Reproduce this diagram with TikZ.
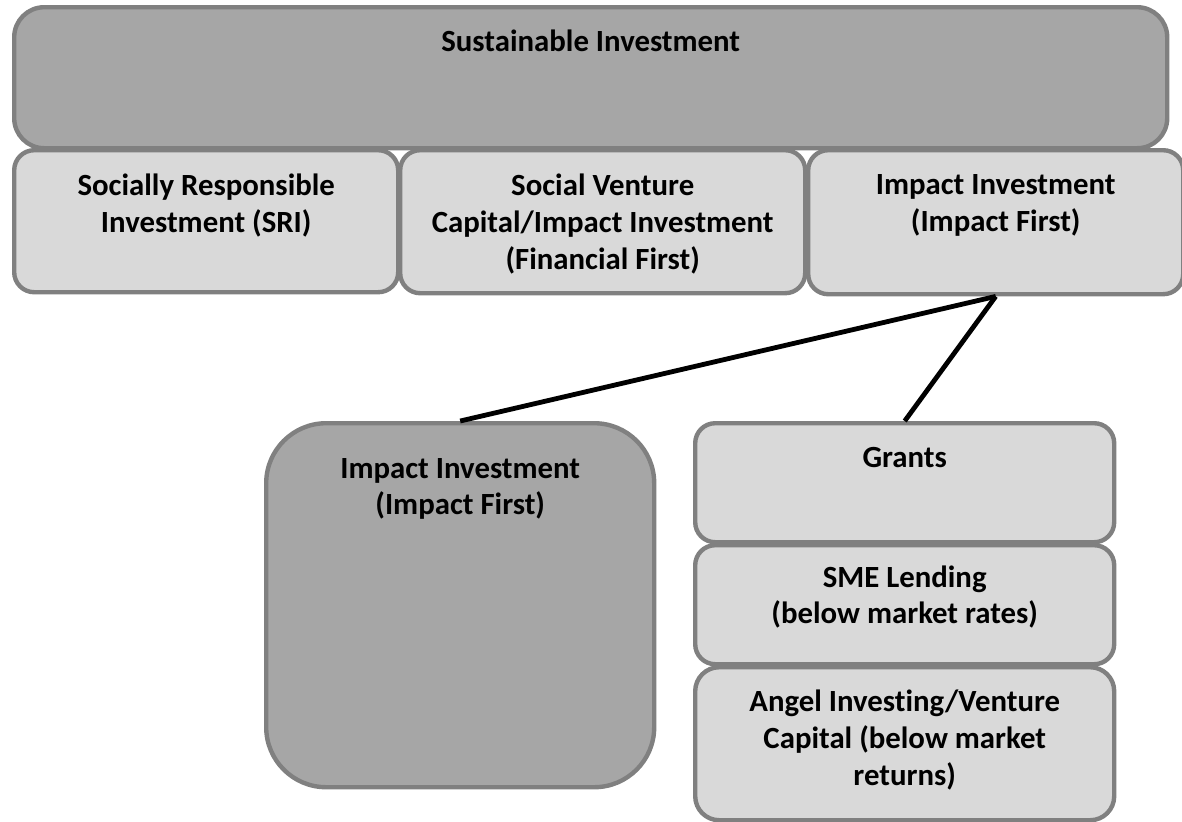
\documentclass[tikz,border=0pt]{standalone}
\usepackage{fontspec}
\setmainfont{Carlito}[Ligatures=NoCommon]
\usetikzlibrary{positioning}
\definecolor{darkfill}{HTML}{A6A6A6}
\definecolor{lightfill}{HTML}{D9D9D9}
\definecolor{boxedge}{HTML}{808080}
\tikzset{
  box/.style={draw=boxedge, line width=2.2pt, anchor=north west, inner sep=0pt, rounded corners=#1},
  box/.default=10pt,
  txt/.style={anchor=north, align=center, inner sep=0pt, font=\bfseries\fontsize{15.4}{18.4}\selectfont},
  conn/.style={line width=2.4pt, black}
}
\begin{document}
\begin{tikzpicture}[x=0.5pt,y=-0.5pt]
    \useasboundingbox (0,0) rectangle (1182,821);

    % Top level
    \node[box=15pt, fill=darkfill, minimum width=576.5pt, minimum height=70.5pt] (sust) at (12,5) {};
    \node[txt, below=12pt of sust.north] (sust-t) {Sustainable Investment};

    % Second row
    \node[box, fill=lightfill, minimum width=192pt, minimum height=71pt] (sri) at (12,148) {};
    \node[box, fill=lightfill, minimum width=202.5pt, minimum height=71.5pt] (svc) at (398,148) {};
    \node[box, fill=lightfill, minimum width=187.5pt, minimum height=72pt] (impf) at (806,148) {};
    \node[txt, below=12.8pt of sri.north] (sri-t) {Socially Responsible\\Investment (SRI)};
    \node[txt, below=12.8pt of svc.north] (svc-t) {Social Venture\\Capital/Impact Investment\\(Financial First)};
    \node[txt, below=13.2pt of impf.north] (impf-t) {Impact Investment\\(Impact First)};

    % Lower level
    \node[box=30pt, fill=darkfill, minimum width=194pt, minimum height=182pt] (ifbig) at (264,421) {};
    \node[txt, below=18.4pt of ifbig.north] (ifbig-t) {Impact Investment\\(Impact First)};

    \node[box, fill=lightfill, minimum width=209.5pt, minimum height=59.5pt] (grants) at (693,421) {};
    \node[box, fill=lightfill, minimum width=209.5pt, minimum height=59.5pt] (sme) at (693,543) {};
    \node[box=12pt, fill=lightfill, minimum width=209.5pt, minimum height=76.5pt] (angel) at (693,665) {};
    \node[txt, below=12.8pt of grants.north] (grants-t) {Grants};
    \node[txt, below=11pt of sme.north] (sme-t) {SME Lending\\(below market rates)};
    \node[txt, below=12.2pt of angel.north] (angel-t) {Angel Investing/Venture\\Capital (below market\\returns)};

    % Connectors
    \draw[conn] (impf.south) -- (ifbig.north);
    \draw[conn] (impf.south) -- (grants.north);
\end{tikzpicture}
\end{document}
